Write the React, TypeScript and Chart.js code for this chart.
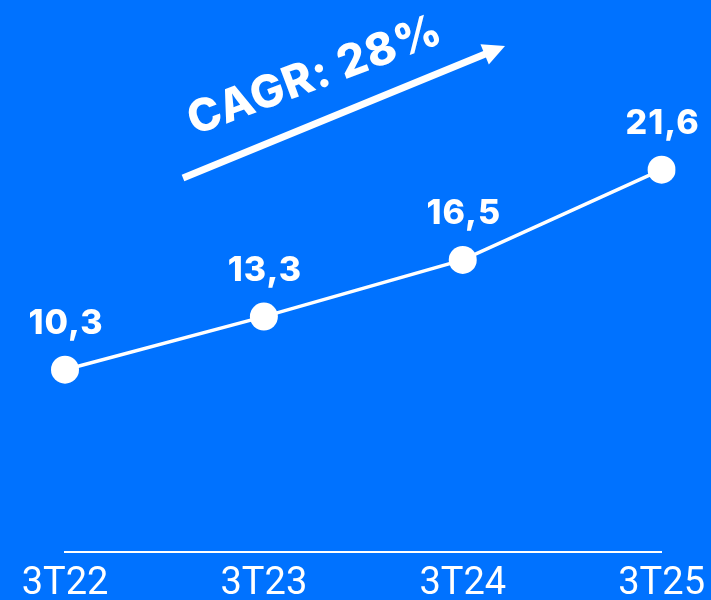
import React, { useEffect, useRef } from "react";
import { Chart, registerables } from "chart.js";

Chart.register(...registerables);

const categories = ["3T22", "3T23", "3T24", "3T25"];
const values = [10.3, 13.3, 16.5, 21.6];
const valueLabels = ["10,3", "13,3", "16,5", "21,6"];
const cagrText = "CAGR: 28%";

const BG = "#0072FF";

const labelPlugin = {
  id: "valueLabels",
  afterDatasetsDraw(chart: any) {
    const ctx = chart.ctx;
    const meta = chart.getDatasetMeta(0);
    ctx.save();
    ctx.fillStyle = "#ffffff";
    ctx.font = "800 34px Inter";
    (ctx as any).letterSpacing = "1px";
    ctx.textAlign = "center";
    ctx.textBaseline = "middle";
    meta.data.forEach((pt: any, i: number) => {
      ctx.fillText(valueLabels[i], pt.x + 1, pt.y - 46);
    });
    ctx.restore();
  },
};

const arrowPlugin = {
  id: "cagrArrow",
  afterDraw(chart: any) {
    const ctx = chart.ctx;
    const x0 = 183, y0 = 178, tx = 505, ty = 46;
    const ang = Math.atan2(ty - y0, tx - x0);
    const dx = Math.cos(ang), dy = Math.sin(ang);
    const headLen = 22, headHalf = 11;
    const bx = tx - dx * headLen, by = ty - dy * headLen;
    ctx.save();
    ctx.strokeStyle = "#ffffff";
    ctx.fillStyle = "#ffffff";
    ctx.lineWidth = 7;
    ctx.beginPath();
    ctx.moveTo(x0, y0);
    ctx.lineTo(bx + dx * 2, by + dy * 2);
    ctx.stroke();
    ctx.beginPath();
    ctx.moveTo(tx, ty);
    ctx.lineTo(bx - dy * headHalf, by + dx * headHalf);
    ctx.lineTo(bx + dy * headHalf, by - dx * headHalf);
    ctx.closePath();
    ctx.fill();
    ctx.translate(315, 76);
    ctx.rotate((-20.5 * Math.PI) / 180);
    ctx.font = "800 45px Inter";
    (ctx as any).letterSpacing = "1px";
    ctx.textAlign = "center";
    ctx.textBaseline = "middle";
    ctx.fillText(cagrText, 0, 0);
    ctx.restore();
  },
};

export default function App() {
  const ref = useRef<HTMLCanvasElement>(null);
  useEffect(() => {
    document.body.style.margin = "0";
    const chart = new Chart(ref.current!, {
      type: "line",
      data: {
        labels: categories,
        datasets: [
          {
            data: values,
            borderColor: "#ffffff",
            borderWidth: 3.5,
            pointRadius: 14,
            pointBackgroundColor: "#ffffff",
            pointBorderWidth: 0,
            tension: 0,
          },
        ],
      },
      options: {
        animation: false,
        responsive: false,
        maintainAspectRatio: false,
        layout: { padding: { left: 65, right: 49, top: 21, bottom: 0 } },
        plugins: { legend: { display: false }, tooltip: { enabled: false } },
        scales: {
          x: {
            offset: false,
            grid: { display: false, drawTicks: false },
            border: { display: true, color: "#ffffff", width: 2 },
            ticks: {
              color: "#ffffff",
              font: { family: "Roboto", size: 38, weight: "normal", lineHeight: 1.4 },
              padding: 6,
              maxRotation: 0,
            },
            afterFit(scale: any) {
              scale.height = 48;
            },
          },
          y: {
            display: false,
            min: 0,
            max: 30,
          },
        },
      },
      plugins: [labelPlugin, arrowPlugin],
    });
    return () => chart.destroy();
  }, []);
  return (
    <div style={{ width: 711, height: 600, background: BG }}>
      <canvas ref={ref} width={711} height={600} style={{ display: "block" }} />
    </div>
  );
}
